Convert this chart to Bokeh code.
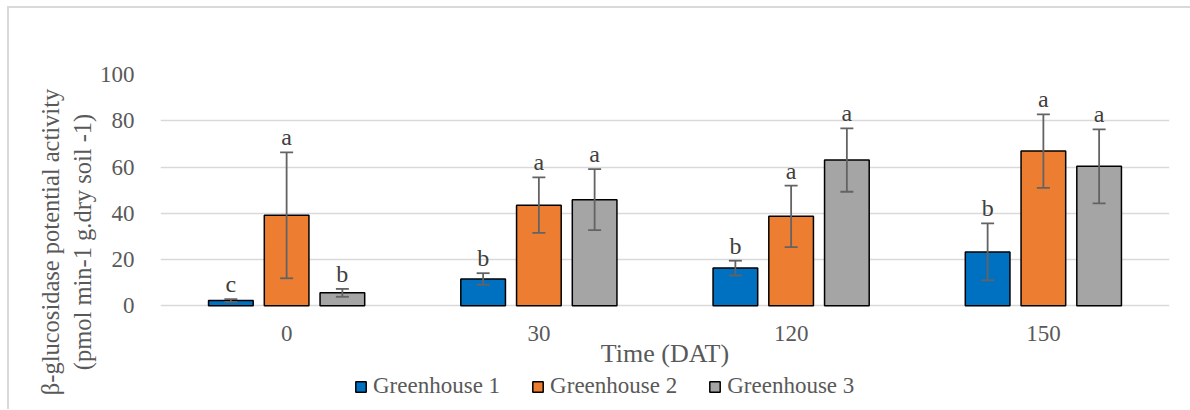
from bokeh.plotting import figure
from bokeh.models import ColumnDataSource, FactorRange, Range1d, Whisker, TeeHead, Legend, LegendItem
from bokeh.transform import dodge
from bokeh.core.properties import value
from bokeh.embed import file_html
from bokeh.resources import INLINE

# ---- data ----
times = ["0", "30", "120", "150"]
series_names = ["Greenhouse 1", "Greenhouse 2", "Greenhouse 3"]
gh1 = [2.3, 11.6, 16.3, 23.3]
gh1_sd = [0.6, 2.5, 3.2, 12.3]
gh2 = [39.1, 43.5, 38.7, 66.9]
gh2_sd = [27.2, 12.0, 13.3, 15.9]
gh3 = [5.6, 45.9, 63.0, 60.3]
gh3_sd = [1.7, 13.2, 13.7, 16.0]
gh1_letters = ["c", "b", "b", "b"]
gh2_letters = ["a", "a", "a", "a"]
gh3_letters = ["b", "a", "a", "a"]
y_ticks = [0, 20, 40, 60, 80, 100]
y_title = "β-glucosidase potential activity\n(pmol min-1 g.dry soil -1)"
x_title = "Time (DAT)"

colors = ["#0070C0", "#ED7D31", "#A5A5A5"]
offsets = [-0.221, 0.0, 0.221]
FONT = "Liberation Serif"
TXT = "#595959"
ERR = "#636363"

# frame extends below the value axis so the category labels and legend sit inside it
p = figure(x_range=FactorRange(factors=times), y_range=Range1d(-44.83, 100),
           frame_width=1009, frame_height=335, output_backend="svg", toolbar_location=None,
           min_border_left=151, min_border_right=21, min_border_top=66, min_border_bottom=0)
p.styles = {"margin-left": "7px", "margin-top": "6px",
            "border-left": "2px solid #d9d9d9", "border-top": "2px solid #d9d9d9"}
p.outline_line_color = None
p.background_fill_color = "white"
p.xgrid.grid_line_color = None
p.ygrid.grid_line_color = "#d9d9d9"
p.ygrid.grid_line_width = 1.3
p.yaxis.ticker = y_ticks

for ax in (p.xaxis[0], p.yaxis[0]):
    ax.axis_line_color = None
    ax.major_tick_line_color = None
    ax.minor_tick_line_color = None
    ax.major_label_text_font = FONT
    ax.major_label_text_font_size = "23px"
    ax.major_label_text_color = TXT
    ax.axis_label_text_font = FONT
    ax.axis_label_text_font_style = "normal"
    ax.axis_label_text_color = TXT

p.xaxis.fixed_location = 0
p.xaxis.axis_label = x_title
p.xaxis.axis_label_text_font_size = "26px"
p.xaxis.major_label_standoff = 14
p.xaxis.axis_label_standoff = -5
p.yaxis.axis_label = y_title
p.yaxis.axis_label_text_font_size = "24.5px"
p.yaxis.major_label_standoff = 20
p.yaxis.axis_label_standoff = 1

items = []
for name, vals, sds, letters, col, off in zip(series_names, [gh1, gh2, gh3], [gh1_sd, gh2_sd, gh3_sd],
                                             [gh1_letters, gh2_letters, gh3_letters], colors, offsets):
    src = ColumnDataSource(dict(time=times, val=vals,
                                lo=[v - s for v, s in zip(vals, sds)],
                                hi=[v + s for v, s in zip(vals, sds)],
                                letter=letters))
    xd = dodge("time", off, range=p.x_range)
    r = p.vbar(x=xd, top="val", width=0.177, source=src, fill_color=col,
               line_color="black", line_width=1.5)
    w = Whisker(base=xd, upper="hi", lower="lo", source=src, level="overlay",
                line_color=ERR, line_width=1.8,
                upper_head=TeeHead(size=13, line_color=ERR, line_width=1.8),
                lower_head=TeeHead(size=13, line_color=ERR, line_width=1.8))
    p.add_layout(w)
    p.text(x=xd, y="hi", text="letter", source=src, text_align="center",
           text_baseline="alphabetic", y_offset=-15, text_font=value(FONT),
           text_font_size="24px", text_color="#404040")
    items.append(LegendItem(label=name, renderers=[r]))

legend = Legend(items=items, orientation="horizontal", location=(194, 10),
                glyph_width=13, glyph_height=13, label_standoff=6, spacing=31,
                padding=0, margin=0, border_line_color=None, background_fill_alpha=0,
                label_text_font=FONT, label_text_font_size="23px", label_text_color=TXT)
p.add_layout(legend, "center")

open("out.html", "w").write(file_html(p, INLINE))
